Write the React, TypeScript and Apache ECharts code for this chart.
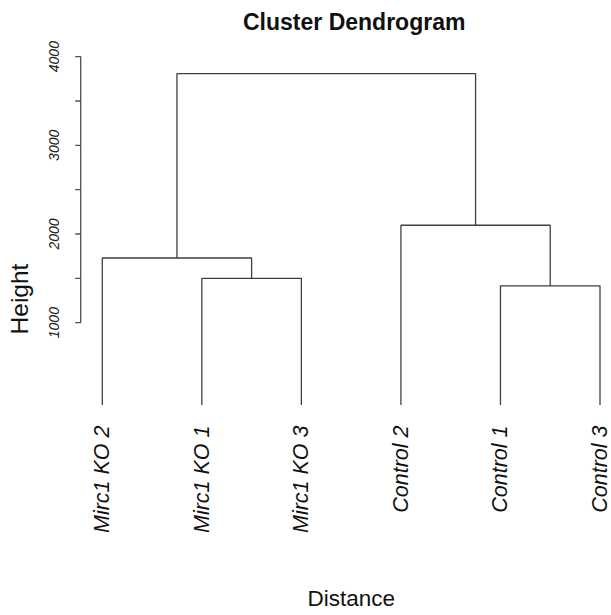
import React, { useEffect, useRef } from "react";
import * as echarts from "echarts";

// Leaf order along the bottom of the dendrogram
const leaves = ["Mirc1 KO 2", "Mirc1 KO 1", "Mirc1 KO 3", "Control 2", "Control 1", "Control 3"];

// Merge steps (hclust style): negative = leaf position (1-based), positive = earlier merge step
const mergeLeft = [-2, -5, -1, -4, 3];
const mergeRight = [-3, -6, 1, 2, 4];
const mergeHeight = [1455, 1368, 1688, 2064, 3804];

// Height axis: tick marks and labelled ticks
const heightTickMarks = [1000, 1500, 2000, 2500, 3000, 3500, 4000];
const heightTicks = [1000, 2000, 3000, 4000];

const FONT = '"Liberation Sans", Arial, Helvetica, sans-serif';
const LINE = "#3f3f3f";
const AXIS_COLOR = "#505050";

function buildSegments() {
  const nodeX: number[] = [];
  const nodeH: number[] = [];
  const pos = (ref: number) => (ref < 0 ? -ref : nodeX[ref - 1]);
  const hgt = (ref: number) => (ref < 0 ? 0 : nodeH[ref - 1]);
  const segs: number[][][] = [];
  for (let i = 0; i < mergeHeight.length; i++) {
    const xl = pos(mergeLeft[i]);
    const xr = pos(mergeRight[i]);
    const h = mergeHeight[i];
    segs.push([
      [xl, hgt(mergeLeft[i])],
      [xl, h],
      [xr, h],
      [xr, hgt(mergeRight[i])],
    ]);
    nodeX.push((xl + xr) / 2);
    nodeH.push(h);
  }
  return segs;
}

// Axis line with outward ticks as one path: x = 0 is the axis, x = -1 the tick tip
function buildAxisPath() {
  const pts: number[][] = [];
  heightTickMarks.forEach((v) => {
    pts.push([0, v], [-1, v], [0, v]);
  });
  return pts;
}

const hiddenAxis = {
  axisLine: { show: false },
  axisTick: { show: false },
  axisLabel: { show: false },
  splitLine: { show: false },
};

export default function App() {
  const ref = useRef<HTMLDivElement>(null);

  useEffect(() => {
    if (!ref.current) return;
    const chart = echarts.init(ref.current, null, { renderer: "svg" });
    const segs = buildSegments();

    const dendroSeries = segs.map((s) => ({
      type: "line",
      xAxisIndex: 0,
      yAxisIndex: 0,
      data: s,
      symbol: "none",
      silent: true,
      lineStyle: { color: LINE, width: 1.3 },
    }));

    chart.setOption({
      animation: false,
      title: {
        text: "Cluster Dendrogram",
        left: 243,
        top: 10,
        padding: 0,
        textStyle: { fontFamily: FONT, fontWeight: "bold", fontSize: 23, color: "#111" },
      },
      grid: [
        { left: 102.3, right: 5.7, top: 56.65, bottom: 203.67 },
        { left: 75.2, width: 5.5, top: 56.65, height: 266 },
        { left: 80.7, width: 1, top: 250, height: 98 },
      ],
      xAxis: [
        {
          type: "value",
          gridIndex: 0,
          min: 1,
          max: leaves.length,
          interval: 1,
          axisLine: { show: false },
          axisTick: { show: false },
          splitLine: { show: false },
          axisLabel: {
            rotate: 90,
            margin: 20.5,
            showMinLabel: true,
            showMaxLabel: true,
            fontFamily: FONT,
            fontStyle: "italic",
            fontSize: 21.5,
            color: "#111",
            formatter: (v: number) => leaves[Math.round(v) - 1] ?? "",
          },
          name: "Distance",
          nameLocation: "middle",
          nameGap: 182,
          nameTextStyle: { fontFamily: FONT, fontSize: 22.5, color: "#111" },
        },
        { type: "value", gridIndex: 1, min: -1, max: 0, ...hiddenAxis },
        { type: "value", gridIndex: 2, min: 0, max: 1, ...hiddenAxis },
      ],
      yAxis: [
        { type: "value", gridIndex: 0, min: 0, max: 4000, ...hiddenAxis },
        {
          type: "value",
          gridIndex: 1,
          min: heightTicks[0],
          max: heightTicks[heightTicks.length - 1],
          interval: 1000,
          axisLine: { show: false, onZero: false },
          axisTick: { show: false },
          splitLine: { show: false },
          axisLabel: {
            rotate: 90,
            margin: 14,
            fontFamily: FONT,
            fontStyle: "italic",
            fontSize: 14,
            color: "#222",
            formatter: (v: number) => String(v),
          },
        },
        {
          type: "value",
          gridIndex: 2,
          min: 0,
          max: 1,
          ...hiddenAxis,
          name: "Height",
          nameLocation: "middle",
          nameRotate: 90,
          nameGap: 49,
          nameTextStyle: { fontFamily: FONT, fontSize: 24.5, color: "#111" },
        },
      ],
      series: [
        ...dendroSeries,
        {
          type: "line",
          xAxisIndex: 1,
          yAxisIndex: 1,
          data: buildAxisPath(),
          symbol: "none",
          silent: true,
          clip: false,
          lineStyle: { color: AXIS_COLOR, width: 1.3 },
        },
      ],
    });

    return () => chart.dispose();
  }, []);

  return (
    <div
      ref={ref}
      style={{ position: "fixed", left: 0, top: 0, width: 611, height: 615, background: "#ffffff" }}
    />
  );
}
